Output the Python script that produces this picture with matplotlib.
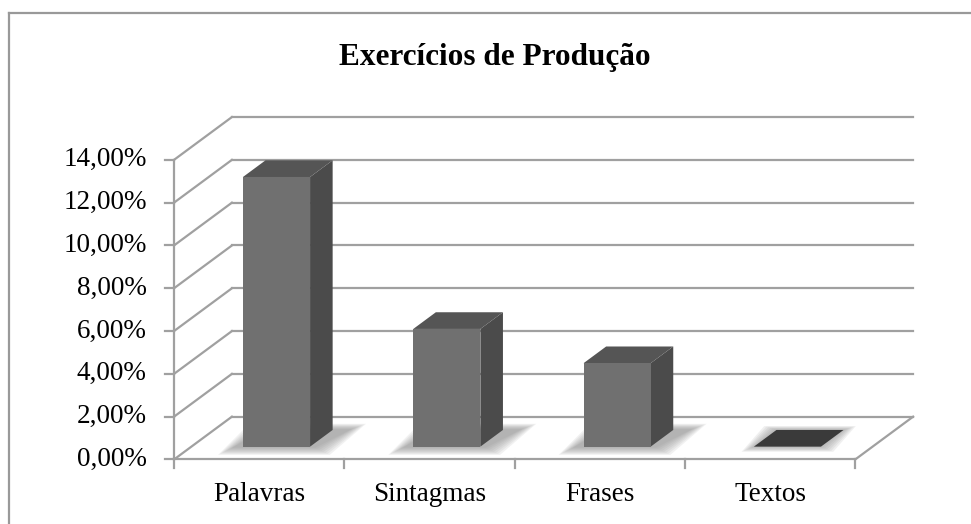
import numpy as np
import matplotlib
matplotlib.use("Agg")
import matplotlib.pyplot as plt
from matplotlib.patches import Polygon
from matplotlib.lines import Line2D

plt.rcParams['font.family'] = ['Liberation Serif', 'DejaVu Serif']

title = "Exercícios de Produção"
categories = ["Palavras", "Sintagmas", "Frases", "Textos"]
values = [12.6, 5.5, 3.9, 0.0]
yticks = [0, 2, 4, 6, 8, 10, 12, 14]
ytick_labels = ["0,00%", "2,00%", "4,00%", "6,00%", "8,00%", "10,00%", "12,00%", "14,00%"]

# oblique projection: depth offset in data units
DX, DY = 0.34, 2.0
D0, D1 = 0.30, 0.69   # bar front/back depth fraction
W = 0.197             # bar half width

grid_c = "#a0a0a0"
front_c, side_c, top_c, flat_c = "#707070", "#4b4b4b", "#555555", "#3a3a3a"

fig = plt.figure(figsize=(9.71, 5.24), dpi=100)
ax = fig.add_axes([0, 0, 1, 1])
ax.set_xlim(-1.5217, 4.180)
ax.set_ylim(-3.014, 21.47)
ax.axis("off")

n = len(categories)
x0, x1 = -0.5, n - 0.5
ymax = yticks[-1]

# back wall gridlines and left wall diagonals
for t, lab in zip(yticks, ytick_labels):
    ax.plot([x0, x0 + DX], [t, t + DY], color=grid_c, lw=1.6, zorder=1)
    ax.plot([x0 + DX, x1 + DX], [t + DY, t + DY], color=grid_c, lw=1.6, zorder=1)
    ax.plot([x0 - 0.05, x0], [t, t], color=grid_c, lw=1.6, zorder=1)
    ax.text(x0 - 0.16, t, lab, ha="right", va="center", fontsize=19.5, color="black")

# y axis and floor
ax.plot([x0, x0], [0, ymax], color=grid_c, lw=1.6, zorder=1)
ax.plot([x0, x1], [0, 0], color=grid_c, lw=1.6, zorder=1)
ax.plot([x1, x1 + DX], [0, DY], color=grid_c, lw=1.6, zorder=1)
for i in range(n + 1):
    ax.plot([x0 + i, x0 + i], [0, -0.4], color=grid_c, lw=1.6, zorder=1)

for i, (cat, v) in enumerate(zip(categories, values)):
    fl = i + D0 * DX - W
    fr = i + D0 * DX + W
    bl = i + D1 * DX - W
    br = i + D1 * DX + W
    yf = D0 * DY
    yb = D1 * DY
    # soft shadow on floor
    if v > 0:
        for k in range(8):
            e = 0.012 * (8 - k)
            ey = 0.12 * (8 - k)
            shadow = Polygon([(fl - 0.05 - e, yf - ey * 0.4), (fr + 0.02 + e, yf - ey * 0.4),
                              (br + 0.10 + e, yb + ey * 0.3), (bl - e, yb + ey * 0.3)],
                             closed=True, facecolor="#888888", edgecolor="none",
                             alpha=0.11, zorder=2)
            ax.add_patch(shadow)
        ax.add_patch(Polygon([(fr, yf), (br, yb), (br, yb + v), (fr, yf + v)],
                             closed=True, facecolor=side_c, edgecolor="none", zorder=3))
        ax.add_patch(Polygon([(fl, yf + v), (fr, yf + v), (br, yb + v), (bl, yb + v)],
                             closed=True, facecolor=top_c, edgecolor="none", zorder=3))
        ax.add_patch(Polygon([(fl, yf), (fr, yf), (fr, yf + v), (fl, yf + v)],
                             closed=True, facecolor=front_c, edgecolor="none", zorder=4))
    else:
        for k in range(6):
            e = 0.012 * (6 - k)
            ey = 0.1 * (6 - k)
            ax.add_patch(Polygon([(fl - e, yf - ey * 0.4), (fr + e, yf - ey * 0.4),
                                  (br + e, yb + ey * 0.3), (bl - e, yb + ey * 0.3)],
                                 closed=True, facecolor="#888888", edgecolor="none",
                                 alpha=0.12, zorder=2))
        ax.add_patch(Polygon([(fl, yf), (fr, yf), (br, yb), (bl, yb)],
                             closed=True, facecolor=flat_c, edgecolor="none", zorder=3))
    ax.text(i, -1.65, cat, ha="center", va="center", fontsize=19.5, color="black")

ax.text(1.385, 18.77, title, ha="center", va="center", fontsize=22.5,
        fontweight="bold", color="black")

# chart border
fig.add_artist(Line2D([8.5 / 971, 8.5 / 971], [0, 1 - 12.5 / 524], color="#999999", lw=1.6))
fig.add_artist(Line2D([8.5 / 971, 1], [1 - 12.5 / 524, 1 - 12.5 / 524], color="#999999", lw=1.6))

fig.savefig("out.png", dpi=100)
